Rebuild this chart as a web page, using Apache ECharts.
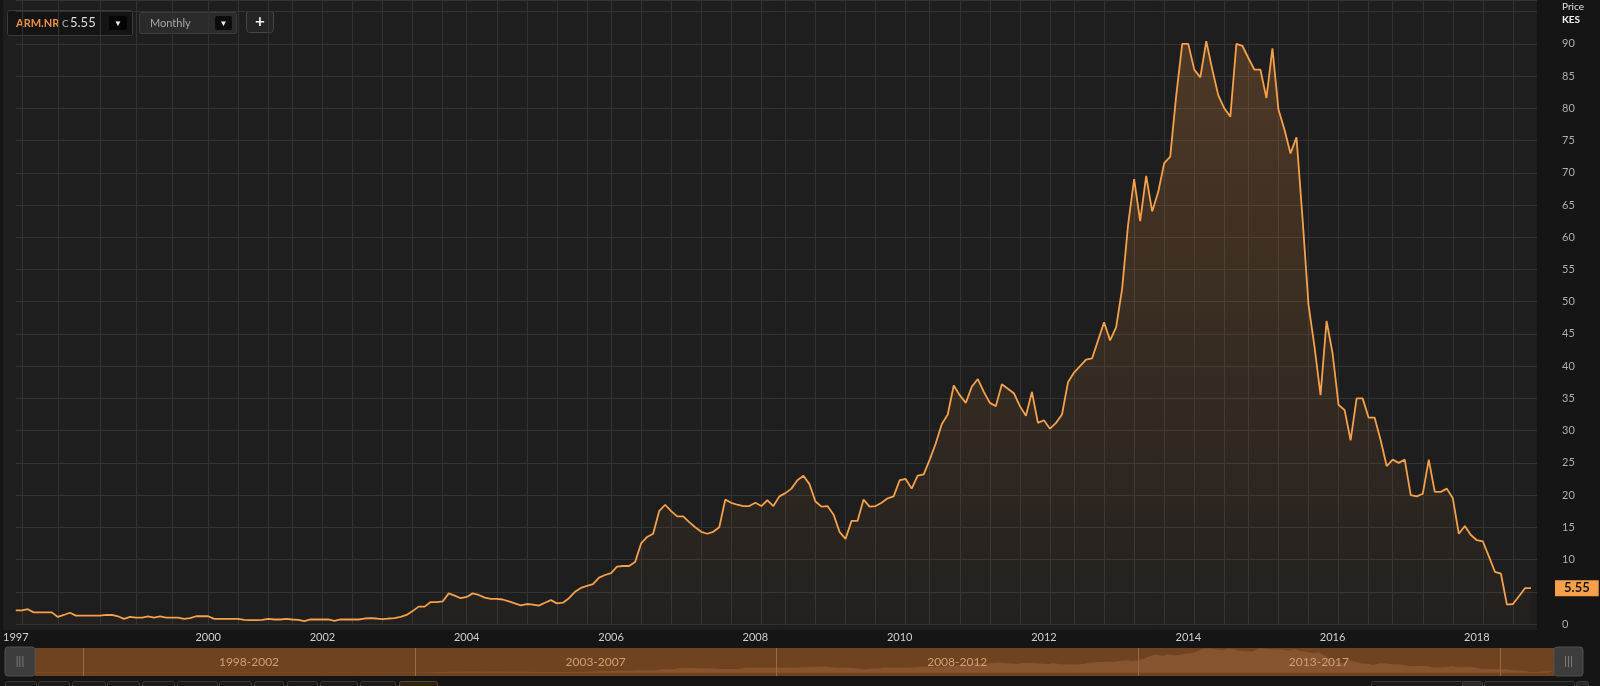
<!DOCTYPE html>
<html><head><meta charset="utf-8">
<script src="https://cdn.jsdelivr.net/npm/echarts@6/dist/echarts.min.js"></script>
<style>html,body{margin:0;padding:0;background:#151515;}#c{width:1600px;height:686px;}</style>
</head><body><div id="c"></div>
<script>
// ---- data ----
const firstMonth = '1997-05';
const lastMonth = '2018-10';
const missingMonths = ['2000-04', '2000-09', '2001-02', '2001-06', '2001-11'];
const prices1997_2003 = [
  2.1,2.1,2.3,1.8,1.8,1.8,1.8,1.1,1.4,1.75,
  1.3,1.3,1.3,1.3,1.3,1.4,1.4,1.2,0.8,1.1,
  1.0,1.0,1.2,1.0,1.2,1.0,1.0,1.0,0.8,0.9,
  1.2,1.2,1.2,0.8,0.8,0.8,0.8,0.8,0.65,0.6,
  0.6,0.65,0.8,0.7,0.7,0.8,0.7,0.65,0.45,0.7,
  0.7,0.7,0.7,0.5,0.7,0.7,0.7,0.7,0.85,0.9,
  0.85,0.75,0.85,0.9,1.1,1.4,2.0,2.7,2.7,3.4,
  3.4,3.5,4.75,4.4,4.0
];
const prices2004_2009 = [
  4.2,4.75,4.5,4.1,3.9,3.9,3.8,3.5,3.2,2.9,
  3.1,3.0,2.85,3.3,3.7,3.2,3.3,4.0,5.0,5.6,
  5.9,6.2,7.2,7.6,7.9,8.9,9.0,9.0,9.6,12.5,
  13.5,14,17.5,18.5,17.5,16.7,16.7,15.8,15,14.3,
  14,14.3,15,19.3,18.8,18.5,18.3,18.3,18.8,18.3,
  19.2,18.3,19.8,20.3,21,22.3,23,21.7,19,18.2,
  18.3,17,14.3,13.2,16,16,19.3,18.2,18.3,18.8,
  19.5,19.8
];
const prices2010_2018 = [
  22.3,22.5,21,23,23.2,25.5,28,31,32.5,37,
  35.5,34.3,36.8,38,36,34.3,33.8,37.2,36.5,35.8,
  33.8,32.3,36,31.2,31.6,30.3,31.2,32.5,37.5,39,
  40,41,41.2,44,46.8,44,46,52,62,69,
  62.5,69.5,64,67,71.5,72.5,82,90,90,86,
  84.8,90.4,86,82,80,78.7,90,89.7,87.8,86,
  86,81.6,89.3,79.8,76.7,73,75.5,63,49.5,43,
  35.5,47,42,34,33.2,28.5,35,35,32,32,
  28.5,24.5,25.5,25,25.5,20,19.8,20.2,25.5,20.5,
  20.5,21,19.5,14,15.2,13.8,13,12.8,10.5,8.1,
  7.8,3.0,3.1,4.3,5.55,5.55
];
const lastPrice = 5.55;
const ticker = 'ARM.NR';
const periodLabels = ['1998-2002', '2003-2007', '2008-2012', '2013-2017'];
const periodStarts = ['1998-01', '2003-01', '2008-01', '2013-01', '2018-01'];

// ---- build ----
function buildMonths(first, last, missing) {
  const out = [];
  let [y, m] = first.split('-').map(Number);
  const [ly, lm] = last.split('-').map(Number);
  while (y < ly || (y === ly && m <= lm)) {
    const s = y + '-' + String(m).padStart(2, '0');
    if (!missing.includes(s)) out.push(s);
    m++; if (m > 12) { m = 1; y++; }
  }
  return out;
}
const categories = buildMonths(firstMonth, lastMonth, missingMonths);
const prices = prices1997_2003.concat(prices2004_2009, prices2010_2018);

// vertical grid line positions (style only)
const i2000 = categories.indexOf('2000-01');
const gridIdx = new Set([1, 7, 14, 20, 26]);
for (let k = 0; i2000 + k * 4.816 <= categories.length + 1; k++) gridIdx.add(Math.round(i2000 + k * 4.816));

const FONT = 'Lato, "Open Sans", sans-serif';
const chart = echarts.init(document.getElementById('c'));

const mk = (x, y, w, h, fill, stroke, r) => ({ type: 'rect', silent: true, shape: { x, y, width: w, height: h, r: r || 0 }, style: { fill, stroke: stroke || null, lineWidth: 1 } });
const tx = (x, y, text, fill, size, weight, align) => ({ type: 'text', silent: true, x, y, style: { text, fill, font: (weight || 'normal') + ' ' + size + 'px ' + FONT, textAlign: align || 'left', textVerticalAlign: 'middle' } });

const graphics = [
  Object.assign(mk(3, 0, 1534, 630, '#1e1e1e'), { z: -10 }),
  // toolbar
  mk(7.5, 10.5, 125, 25, '#141414', '#3a3a3a', 2),
  tx(16, 23, ticker, '#ee9148', 11, 'bold'),
  tx(62, 23.5, 'C', '#b5b5b5', 10),
  tx(70, 23, String(lastPrice), '#dcdcdc', 13),
  mk(109, 16, 18, 14, '#050505', null, 2),
  tx(118, 23, '▼', '#eeeeee', 8, 'normal', 'center'),
  mk(139.5, 12.5, 97, 21, '#2b2b2b', '#3c3c3c', 2),
  tx(150, 23, 'Monthly', '#a8a8a8', 11),
  mk(215, 16, 17, 14, '#0d0d0d', null, 2),
  tx(223.5, 23, '▼', '#eeeeee', 8, 'normal', 'center'),
  mk(246.5, 11.5, 27, 21, '#252525', '#454545', 3),
  tx(260, 22, '+', '#f0f0f0', 17, 'bold', 'center'),
  // axis header
  tx(1562, 7, 'Price', '#e0e0e0', 10),
  tx(1562, 20, 'KES', '#f0f0f0', 10, 'bold'),
  // navigator handles
  mk(5, 647, 30, 29, '#3d3d3d', '#505050', 3),
  tx(20, 661.5, '|||', '#8a8a8a', 11, 'normal', 'center'),
  mk(1554, 647, 29, 29, '#3d3d3d', '#505050', 3),
  tx(1568.5, 661.5, '|||', '#8a8a8a', 11, 'normal', 'center')
];
const btns = [[5,31],[38,31],[72,33],[107,32],[142,32],[177,40],[219,32],[254,29],[287,30],[320,37],[360,35]];
btns.forEach(b => graphics.push(mk(b[0] + 0.5, 681.5, b[1], 14, '#1b1b1b', '#3a3a3a', 2)));
graphics.push(mk(399.5, 681.5, 38, 14, '#2a2216', '#5a4628', 2));
graphics.push(mk(1371.5, 681.5, 92, 14, '#1b1b1b', '#3a3a3a', 2));
graphics.push(mk(1462.5, 681.5, 20, 14, '#2a2a2a', '#3a3a3a', 2));
graphics.push(mk(1484.5, 681.5, 90, 14, '#1b1b1b', '#3a3a3a', 2));
graphics.push(mk(1576.5, 681.5, 12, 14, '#2a2a2a', '#3a3a3a', 2));

chart.setOption({
  backgroundColor: '#151515',
  animation: false,
  textStyle: { fontFamily: FONT },
  graphic: graphics,
  grid: [
    { left: 8, right: 63, top: 0, bottom: 62, containLabel: false },
    { left: 35, right: 46, top: 648, height: 28, show: true, backgroundColor: '#6f4320', borderWidth: 0 }
  ],
  xAxis: [
    {
      type: 'category', data: categories, boundaryGap: false, gridIndex: 0,
      max: categories.length,
      axisLine: { show: false }, axisTick: { show: false },
      axisLabel: {
        color: '#cfcfcf', fontSize: 11, margin: 8, fontFamily: FONT,
        interval: (i, v) => i === 0 || (!!v && v.endsWith('-01') && (+v.slice(0, 4)) >= 2000 && (+v.slice(0, 4)) % 2 === 0),
        formatter: v => v ? v.slice(0, 4) : ''
      },
      splitLine: { show: true, interval: (i) => gridIdx.has(i), lineStyle: { color: '#323232', width: 1 } }
    },
    {
      type: 'category', data: categories, boundaryGap: false, gridIndex: 1, show: false
    }
  ],
  yAxis: [
    {
      type: 'value', position: 'right', gridIndex: 0, min: 0, max: 96.8, interval: 5,
      axisLine: { show: false }, axisTick: { show: false },
      axisLabel: {
        color: '#adadad', fontSize: 11, margin: 25, fontFamily: FONT,
        formatter: v => (v <= 90 && Math.abs(v % 5) < 1e-6) ? String(v) : ''
      },
      splitLine: { lineStyle: { color: '#323232', width: 1 } }
    },
    { type: 'value', gridIndex: 1, min: -12, max: 92, show: false }
  ],
  series: [
    {
      type: 'line', data: prices, xAxisIndex: 0, yAxisIndex: 0,
      showSymbol: false, symbol: 'none',
      lineStyle: { color: '#f5a04a', width: 1.8 },
      areaStyle: {
        color: new echarts.graphic.LinearGradient(0, 0, 0, 1, [
          { offset: 0, color: 'rgba(230,140,60,0.34)' },
          { offset: 1, color: 'rgba(230,140,60,0.03)' }
        ])
      },
      markLine: {
        silent: true, symbol: 'none',
        lineStyle: { color: 'rgba(0,0,0,0)', width: 0 },
        label: {
          show: true, position: 'end', distance: 18, formatter: String(lastPrice),
          backgroundColor: '#f7a04b', color: '#1a1a1a', fontSize: 13, fontWeight: 'bold',
          padding: [2, 9, 1, 9], fontFamily: FONT
        },
        emphasis: { disabled: true },
        data: [{ yAxis: lastPrice }]
      }
    },
    {
      type: 'line', data: prices, xAxisIndex: 1, yAxisIndex: 1, z: 1,
      showSymbol: false, symbol: 'none',
      lineStyle: { width: 0 },
      areaStyle: { color: '#86552f', opacity: 1 }
    },
    {
      type: 'line', data: prices, xAxisIndex: 1, yAxisIndex: 1, z: 5,
      showSymbol: false, symbol: 'none',
      lineStyle: { width: 0, opacity: 0 },
      markLine: {
        silent: true, symbol: 'none',
        lineStyle: { color: '#9c6a3f', width: 1, type: 'solid' },
        label: { show: false },
        data: periodStarts.map(s => ({ xAxis: s }))
      },
      markArea: {
        silent: true,
        itemStyle: { color: 'rgba(0,0,0,0)' },
        label: { show: true, position: 'inside', color: '#d29e70', fontSize: 12, fontFamily: FONT },
        data: periodLabels.map((name, k) => [{ name, xAxis: periodStarts[k] }, { xAxis: periodStarts[k + 1] }])
      }
    }
  ]
});
</script>
</body></html>
